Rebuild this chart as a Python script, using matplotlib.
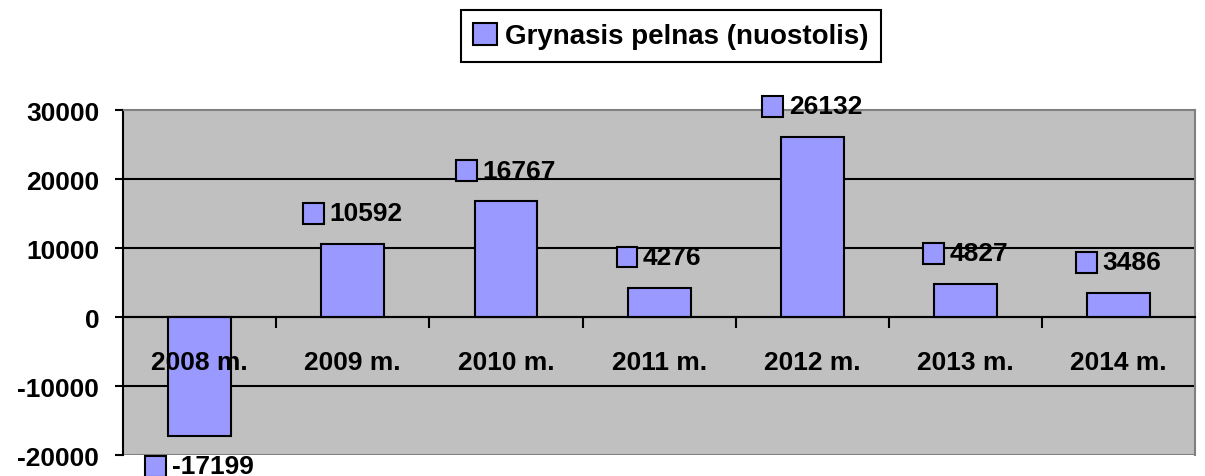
"""
Bar chart of yearly net profit (loss), Excel-style.
"""

import matplotlib
matplotlib.use("Agg")
import matplotlib.pyplot as plt
import numpy as np
from matplotlib.patches import Rectangle
from matplotlib.offsetbox import AnnotationBbox, DrawingArea, HPacker, TextArea

# Chart data
years = ["2008 m.", "2009 m.", "2010 m.", "2011 m.", "2012 m.", "2013 m.", "2014 m."]
profit = [-17199, 10592, 16767, 4276, 26132, 4827, 3486]
series_name = "Grynasis pelnas (nuostolis)"
y_ticks = [-20000, -10000, 0, 10000, 20000, 30000]

BAR_COLOR = "#9999FF"
PLOT_BG = "#C0C0C0"
FONT = "Liberation Sans"
FS = 19

plt.rcParams["font.family"] = [FONT, "DejaVu Sans"]
plt.rcParams["font.weight"] = "bold"

fig = plt.figure(figsize=(12.05, 4.77), dpi=100)
ax = fig.add_axes([0.102, 0.044, 0.890, 0.723])
ax.set_facecolor(PLOT_BG)

x = np.arange(len(years))
bars = ax.bar(x, profit, width=0.41, color=BAR_COLOR, edgecolor="black",
              linewidth=1.5, label=series_name, zorder=2)

# Axis limits and gridlines (drawn by hand so tick labels stay above the bars)
ax.set_xlim(-0.5, len(years) - 0.5)
ax.set_ylim(y_ticks[0], y_ticks[-1])
ax.set_yticks(y_ticks)
ax.set_yticklabels([str(t) for t in y_ticks], fontsize=FS, fontweight="bold")
for t in y_ticks[1:-1]:
    ax.axhline(t, color="black", linewidth=1.5, zorder=1)
ax.set_axisbelow(False)

# Category axis sits at zero
ax.spines["bottom"].set_position(("data", 0))
ax.spines["bottom"].set_linewidth(1.5)
ax.spines["bottom"].set_zorder(4)
ax.spines["left"].set_linewidth(1.5)
for side in ["top", "right"]:
    ax.spines[side].set_color("#808080")
    ax.spines[side].set_linewidth(1.5)

ax.set_xticks(x)
ax.set_xticklabels(years, fontsize=FS, fontweight="bold")
ax.set_xticks(np.arange(0.5, len(years) - 0.5, 1), minor=True)
ax.tick_params(axis="x", which="major", length=0, pad=24)
ax.tick_params(axis="x", which="minor", direction="out", length=8, width=1.5)
ax.tick_params(axis="y", direction="out", length=6, width=1.5, pad=11)

# Bottom frame line of the plot area
ax.axhline(y_ticks[0], color="#808080", linewidth=1.5, zorder=1)

# Data labels: small legend key + value
for xi, val in zip(x, profit):
    key = DrawingArea(15, 15, 0, 0)
    key.add_artist(Rectangle((0, 0), 15, 15, facecolor=BAR_COLOR,
                             edgecolor="black", linewidth=1.5))
    txt = TextArea(str(val), textprops=dict(fontsize=FS, fontweight="bold", family=FONT))
    box = HPacker(children=[key, txt], align="center", pad=0, sep=4)
    off = 22 if val >= 0 else -22
    ab = AnnotationBbox(box, (xi, val), xybox=(0, off), xycoords="data",
                        boxcoords="offset points", frameon=False,
                        box_alignment=(0.5, 0.5), annotation_clip=False)
    ab.set_zorder(5)
    ax.add_artist(ab)

# Legend box at the top
leg = fig.legend(handles=[bars], labels=[series_name], loc="center",
                 bbox_to_anchor=(671 / 1205, 1 - 37 / 477),
                 prop=dict(family=FONT, size=FS + 1, weight="bold"),
                 fancybox=False, edgecolor="black", framealpha=1,
                 handlelength=0.85, handleheight=0.85, handletextpad=0.3,
                 borderpad=0.45)
leg.get_frame().set_linewidth(1.5)

fig.savefig("out.png", dpi=100)
